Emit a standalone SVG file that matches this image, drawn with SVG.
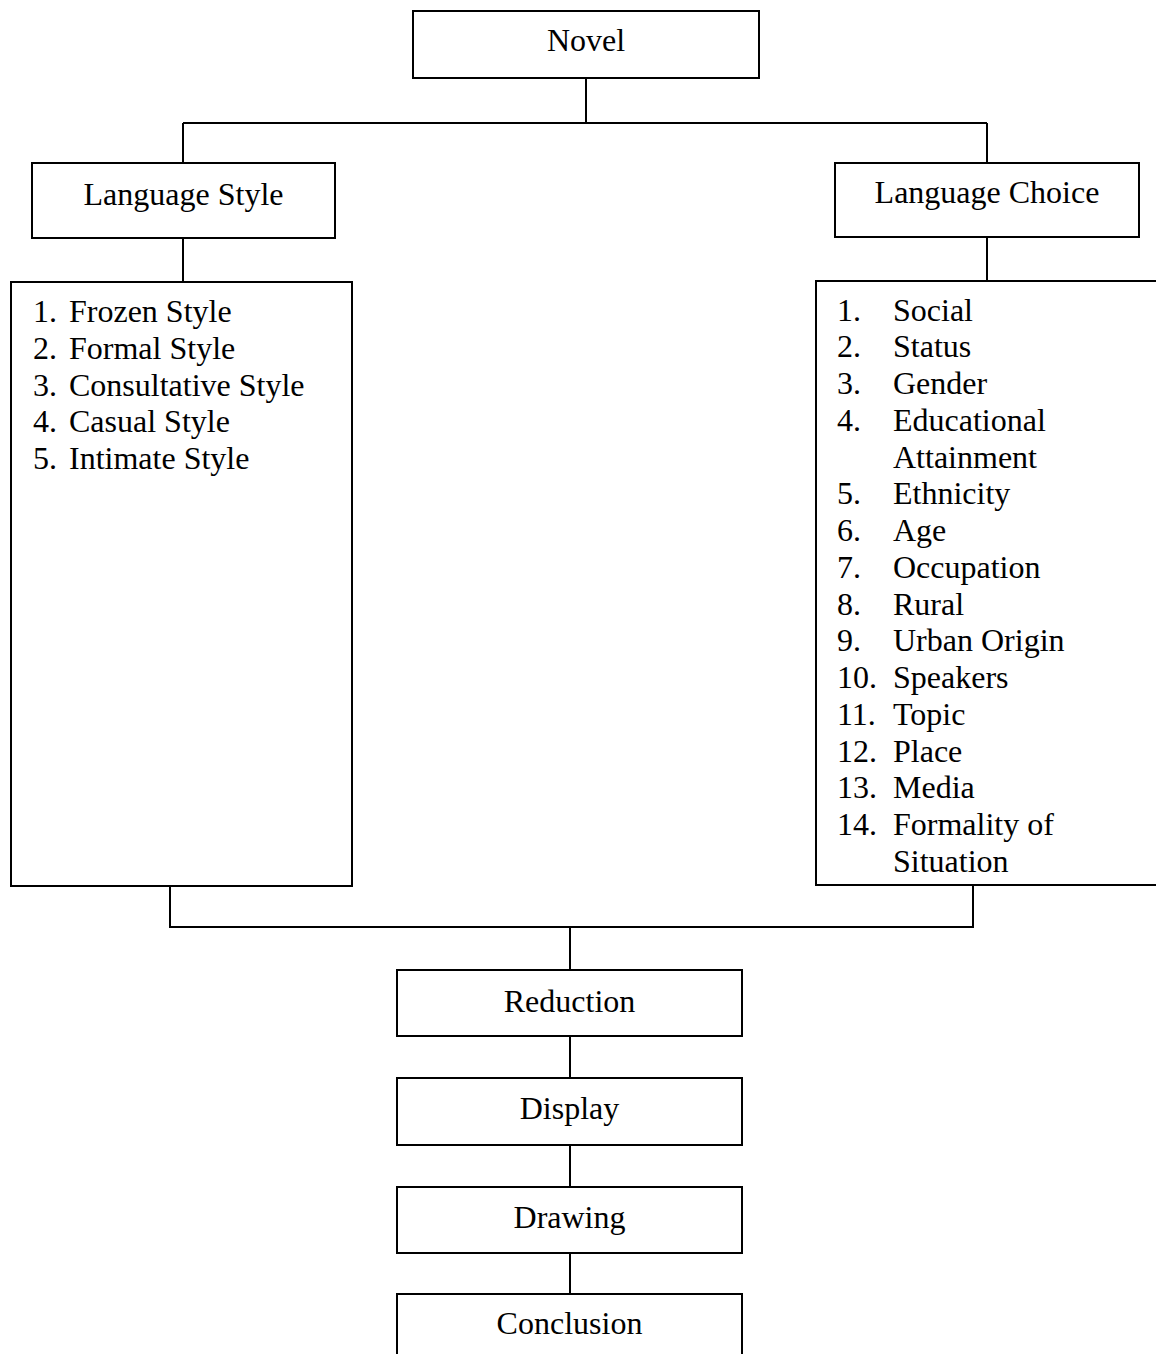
<svg xmlns="http://www.w3.org/2000/svg" width="1156" height="1354" viewBox="0 0 1156 1354">
<style>
rect{fill:#fff;stroke:#000;stroke-width:2}
.c{fill:none;stroke:#000;stroke-width:2}
text{font-family:"Liberation Serif","Times New Roman",serif;font-size:32px;fill:#000}
.m{text-anchor:middle}
</style>
<rect x="0" y="0" width="1156" height="1354" style="stroke:none"/>
<g id="connectors">
<path class="c" d="M586 78V123M183 123H987M183 123V163M987 123V163"/>
<path class="c" d="M183 238V282M987 237V281"/>
<path class="c" d="M170 886V927H973V885M570 927V970"/>
<path class="c" d="M570 1036V1078M570 1145V1187M570 1253V1294"/>
</g>
<g id="novel"><rect x="413" y="11" width="346" height="67"/><text class="m" x="586" y="51">Novel</text></g>
<g id="language-style"><rect x="32" y="163" width="303" height="75"/><text class="m" x="183.5" y="205">Language Style</text></g>
<g id="language-choice"><rect x="835" y="163" width="304" height="74"/><text class="m" x="987" y="203">Language Choice</text></g>
<g id="style-list"><rect x="11" y="282" width="341" height="604"/>
<text x="33" y="322">1.</text><text x="69" y="322">Frozen Style</text>
<text x="33" y="359">2.</text><text x="69" y="359">Formal Style</text>
<text x="33" y="395.5">3.</text><text x="69" y="395.5">Consultative Style</text>
<text x="33" y="432">4.</text><text x="69" y="432">Casual Style</text>
<text x="33" y="469">5.</text><text x="69" y="469">Intimate Style</text>
</g>
<g id="choice-list"><rect x="816" y="281" width="345" height="604"/>
<text x="837" y="320.5">1.</text><text x="893" y="320.5">Social</text>
<text x="837" y="357.25">2.</text><text x="893" y="357.25">Status</text>
<text x="837" y="394">3.</text><text x="893" y="394">Gender</text>
<text x="837" y="430.75">4.</text><text x="893" y="430.75">Educational</text>
<text x="893" y="467.5">Attainment</text>
<text x="837" y="504.25">5.</text><text x="893" y="504.25">Ethnicity</text>
<text x="837" y="541">6.</text><text x="893" y="541">Age</text>
<text x="837" y="577.75">7.</text><text x="893" y="577.75">Occupation</text>
<text x="837" y="614.5">8.</text><text x="893" y="614.5">Rural</text>
<text x="837" y="651.25">9.</text><text x="893" y="651.25">Urban Origin</text>
<text x="837" y="688">10.</text><text x="893" y="688">Speakers</text>
<text x="837" y="724.75">11.</text><text x="893" y="724.75">Topic</text>
<text x="837" y="761.5">12.</text><text x="893" y="761.5">Place</text>
<text x="837" y="798.25">13.</text><text x="893" y="798.25">Media</text>
<text x="837" y="835">14.</text><text x="893" y="835">Formality of</text>
<text x="893" y="871.75">Situation</text>
</g>
<g id="reduction"><rect x="397" y="970" width="345" height="66"/><text class="m" x="569.5" y="1012">Reduction</text></g>
<g id="display"><rect x="397" y="1078" width="345" height="67"/><text class="m" x="569.5" y="1119">Display</text></g>
<g id="drawing"><rect x="397" y="1187" width="345" height="66"/><text class="m" x="569.5" y="1228">Drawing</text></g>
<g id="conclusion"><rect x="397" y="1294" width="345" height="70"/><text class="m" x="569.5" y="1334">Conclusion</text></g>
</svg>
